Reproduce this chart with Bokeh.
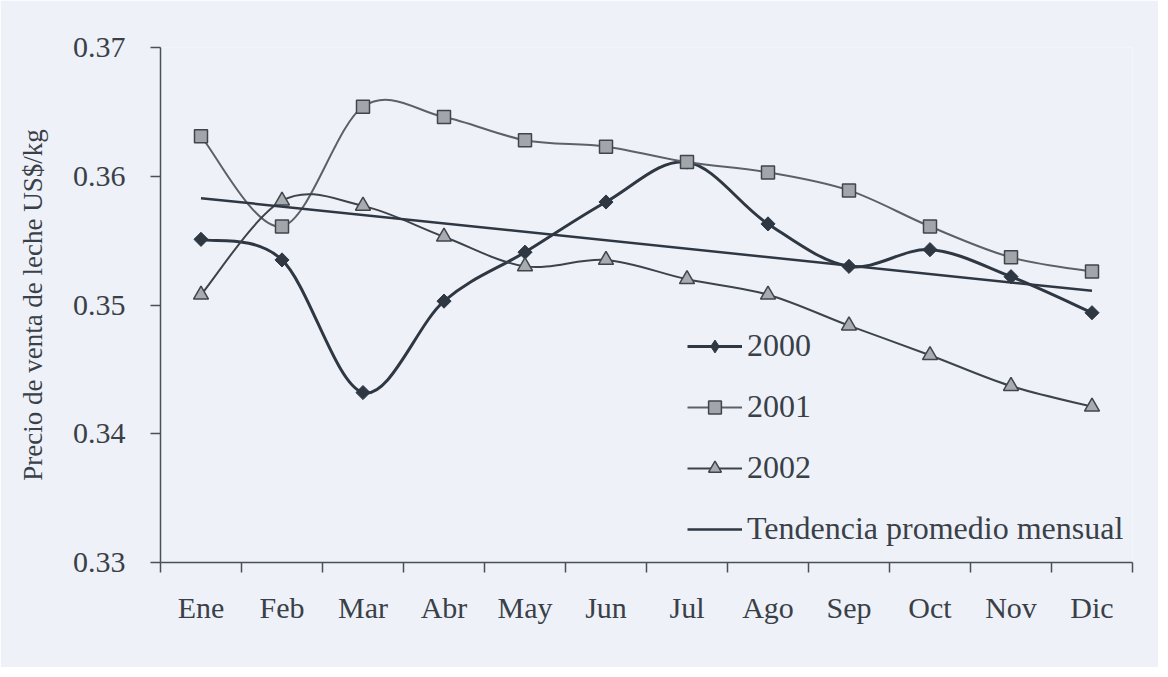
from bokeh.plotting import figure
from bokeh.models import Range1d, FixedTicker, NumeralTickFormatter, Legend, LegendItem, ColumnDataSource
from bokeh.embed import file_html
from bokeh.resources import INLINE
import math

months = ["Ene", "Feb", "Mar", "Abr", "May", "Jun", "Jul", "Ago", "Sep", "Oct", "Nov", "Dic"]
y2000 = [0.3551, 0.3535, 0.3432, 0.3503, 0.3541, 0.3580, 0.3611, 0.3563, 0.3530, 0.3543, 0.3522, 0.3494]
y2001 = [0.3631, 0.3561, 0.3654, 0.3646, 0.3628, 0.3623, 0.3611, 0.3603, 0.3589, 0.3561, 0.3537, 0.3526]
y2002 = [0.3508, 0.3581, 0.3577, 0.3553, 0.3530, 0.3535, 0.3520, 0.3508, 0.3484, 0.3461, 0.3437, 0.3421]
trend_months = ["Ene", "Dic"]
trend_vals = [0.3583, 0.3511]
y_ticks = [0.33, 0.34, 0.35, 0.36, 0.37]

FONT = "Liberation Serif"
TXT = "#3a4048"
BG = "#eef2f8"
DARK = "#2e3742"

xs = list(range(1, len(months) + 1))

p = figure(frame_width=972, frame_height=515, output_backend="svg", toolbar_location=None,
           x_range=Range1d(0.5, 12.5), y_range=Range1d(0.33, 0.37),
           min_border_left=160, min_border_right=26, min_border_top=47, min_border_bottom=105,
           background_fill_color=BG, border_fill_color=BG, outline_line_color=None)
p.grid.visible = False

# axes
p.xaxis.ticker = FixedTicker(ticks=xs, minor_ticks=[i + 0.5 for i in range(0, 13)])
p.xaxis.major_label_overrides = {i: m for i, m in zip(xs, months)}
p.xaxis.major_tick_out = 0
p.xaxis.major_tick_in = 0
p.xaxis.minor_tick_out = 10
p.xaxis.minor_tick_in = 0
p.xaxis.major_label_standoff = 18
p.yaxis.ticker = FixedTicker(ticks=y_ticks)
p.yaxis.formatter = NumeralTickFormatter(format="0.00")
p.yaxis.major_tick_out = 10
p.yaxis.major_tick_in = 0
p.yaxis.minor_tick_out = 0
p.yaxis.minor_tick_in = 0
p.yaxis.major_label_standoff = 25
p.yaxis.axis_label = "Precio de venta de leche US$/kg"
p.yaxis.axis_label_standoff = 22
p.yaxis.axis_label_text_font = FONT
p.yaxis.axis_label_text_font_size = "27px"
p.yaxis.axis_label_text_font_style = "normal"
p.yaxis.axis_label_text_color = TXT
for ax in (p.xaxis, p.yaxis):
    ax.axis_line_color = "#4a5058"
    ax.axis_line_width = 1.5
    ax.major_tick_line_color = "#4a5058"
    ax.minor_tick_line_color = "#4a5058"
    ax.major_tick_line_width = 1.5
    ax.minor_tick_line_width = 1.5
    ax.major_label_text_font = FONT
    ax.major_label_text_font_size = "30px"
    ax.major_label_text_color = TXT


def bezier_source(x, y):
    n = len(x)
    d = dict(x0=[], y0=[], x1=[], y1=[], cx0=[], cy0=[], cx1=[], cy1=[])
    for i in range(n - 1):
        pm = max(i - 1, 0)
        pp = min(i + 2, n - 1)
        d["x0"].append(x[i]); d["y0"].append(y[i])
        d["x1"].append(x[i + 1]); d["y1"].append(y[i + 1])
        d["cx0"].append(x[i] + (x[i + 1] - x[pm]) / 6.0)
        d["cy0"].append(y[i] + (y[i + 1] - y[pm]) / 6.0)
        d["cx1"].append(x[i + 1] - (x[pp] - x[i]) / 6.0)
        d["cy1"].append(y[i + 1] - (y[pp] - y[i]) / 6.0)
    return ColumnDataSource(d)


series = [
    ("2000", y2000, dict(line_color=DARK, line_width=3),
     dict(marker="square", size=10, angle=math.pi / 4, fill_color=DARK, line_color=DARK, line_width=1),
     dict(marker="diamond", size=18, fill_color=DARK, line_color=DARK, line_width=1)),
    ("2001", y2001, dict(line_color="#5c6168", line_width=2),
     dict(marker="square", size=13, fill_color="#a2a6ab", line_color="#3f454c", line_width=1.5), None),
    ("2002", y2002, dict(line_color="#3c434c", line_width=2),
     dict(marker="triangle", size=15, fill_color="#a8acb1", line_color="#3f454c", line_width=1.5), None),
]

items = []
for name, ys, lstyle, mstyle, legmark in series:
    src = bezier_source(xs, ys)
    p.bezier(x0="x0", y0="y0", x1="x1", y1="y1", cx0="cx0", cy0="cy0", cx1="cx1", cy1="cy1",
             source=src, **lstyle)
    # off-range stub line, only used for the legend swatch
    leg_line = p.line(x=[-10, -9], y=[0.2, 0.2], **lstyle)
    sc = p.scatter(x=xs, y=ys, **mstyle)
    if legmark is not None:
        leg_sc = p.scatter(x=[-10], y=[0.2], **legmark)
        items.append(LegendItem(label=name, renderers=[leg_line, leg_sc]))
    else:
        items.append(LegendItem(label=name, renderers=[leg_line, sc]))

tx = [xs[months.index(m)] for m in trend_months]
tr = p.line(x=tx, y=trend_vals, line_color=DARK, line_width=2.5)
items.append(LegendItem(label="Tendencia promedio mensual", renderers=[tr]))

legend = Legend(items=items, location=(527, 15), background_fill_alpha=0, border_line_color=None,
                label_text_font=FONT, label_text_font_size="32px", label_text_color=TXT,
                glyph_width=55, glyph_height=32, label_height=32, label_standoff=5,
                spacing=24, padding=0, margin=0)
p.add_layout(legend)

open("out.html", "w").write(file_html(p, INLINE))
